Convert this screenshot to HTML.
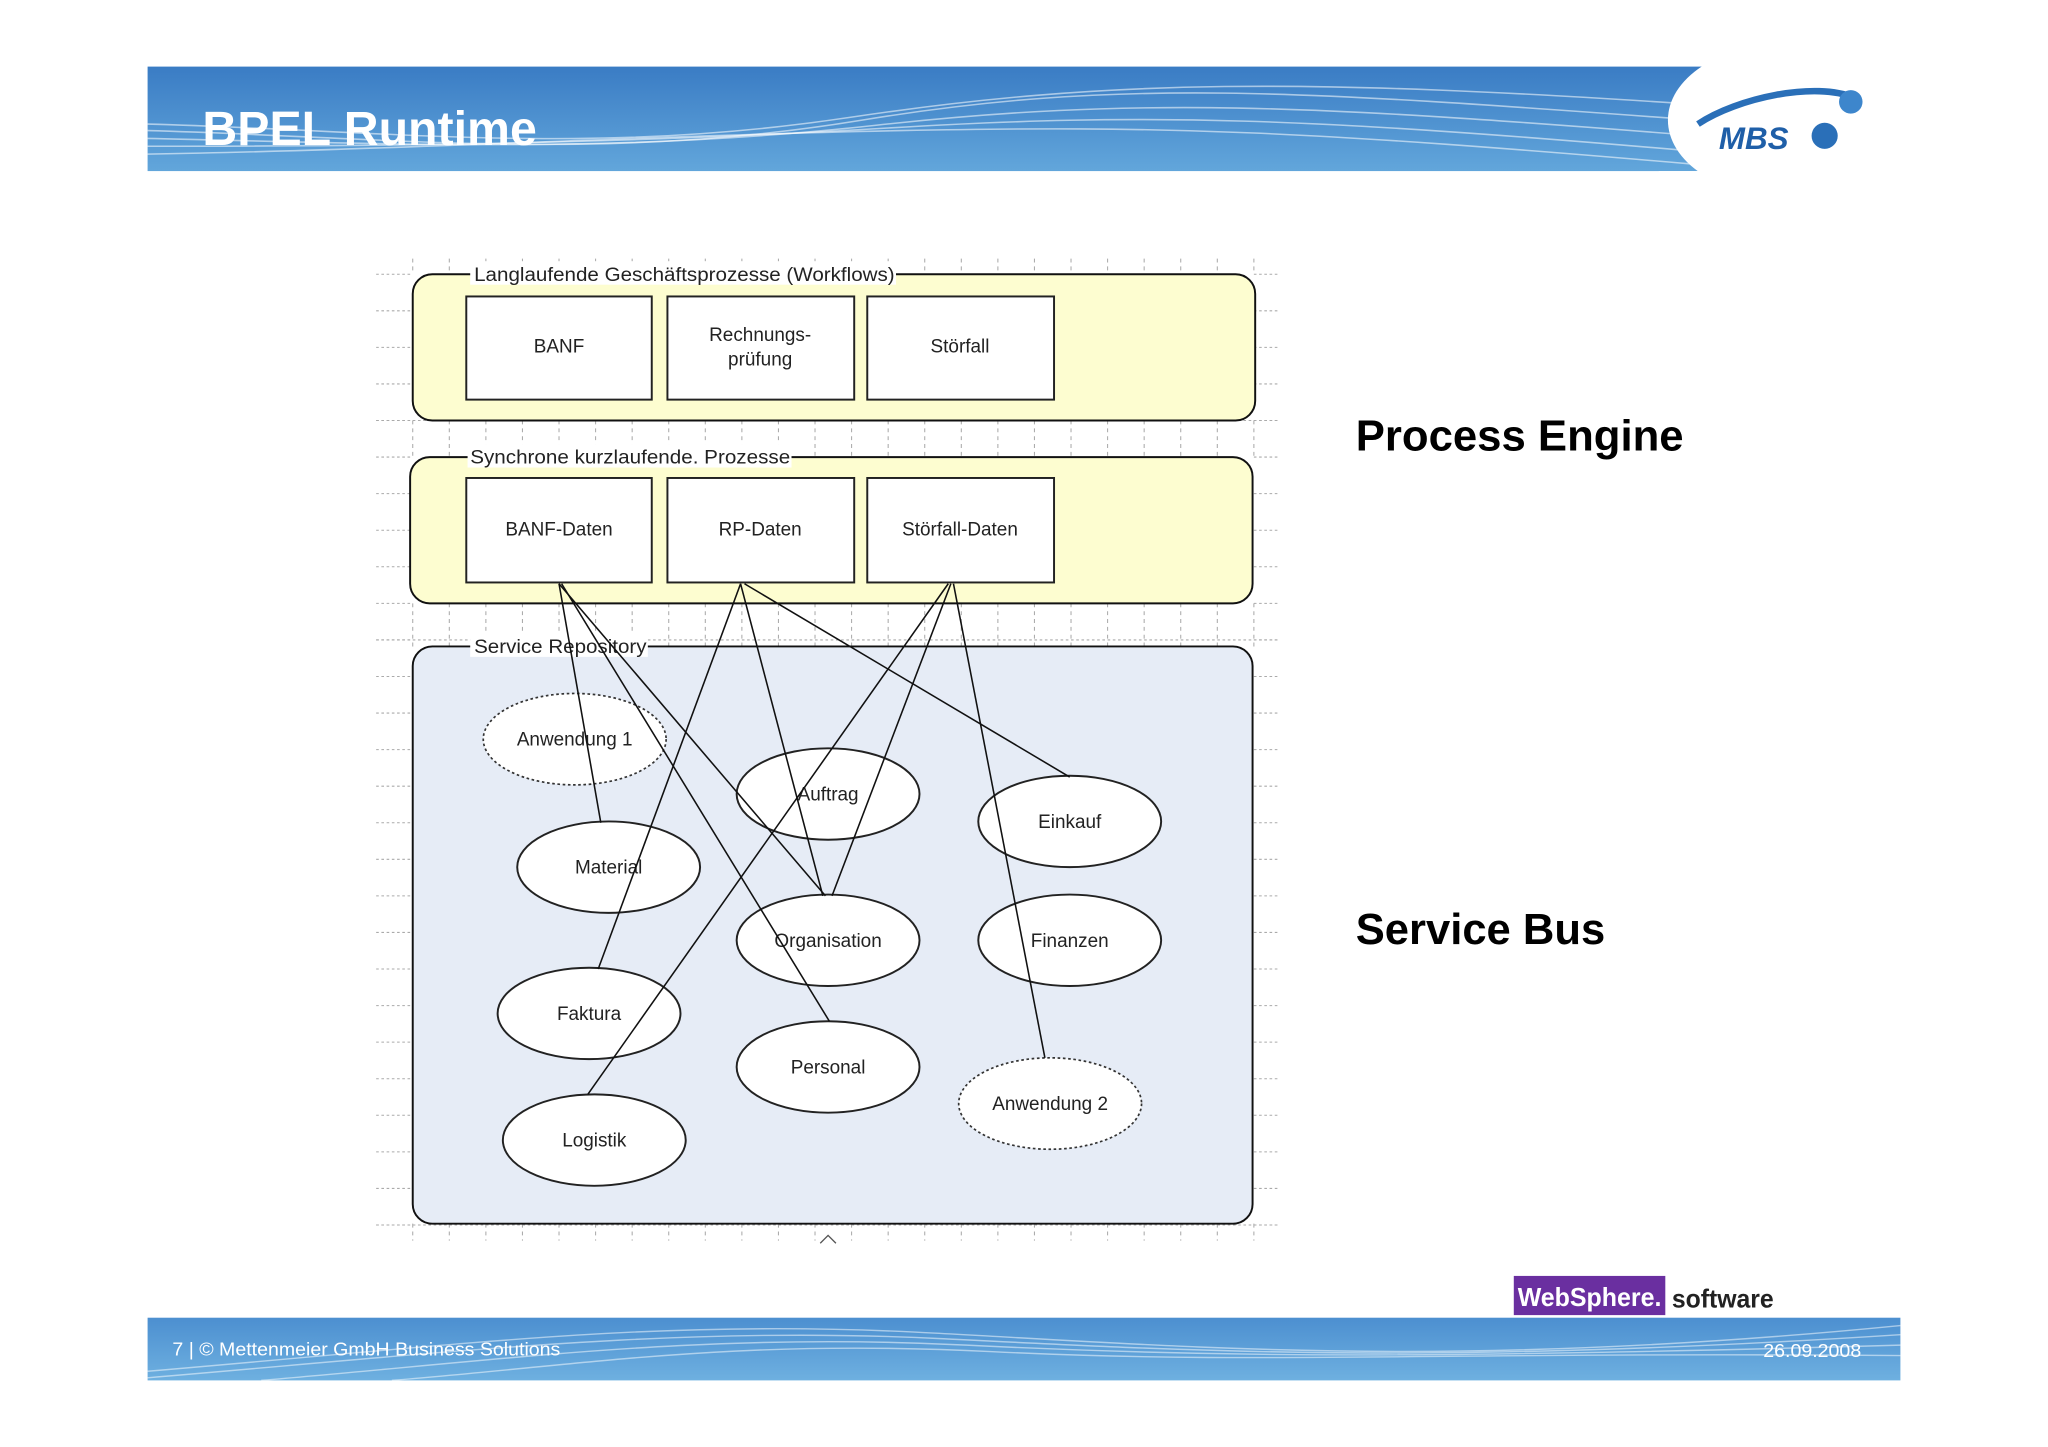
<!DOCTYPE html>
<html><head><meta charset="utf-8"><style>
html,body{margin:0;padding:0;background:#fff;}
svg{display:block;}
text{font-family:"Liberation Sans",Arial,sans-serif;}
</style></head><body>
<svg width="2048" height="1447" viewBox="0 0 1568 1108" preserveAspectRatio="none" xmlns="http://www.w3.org/2000/svg">
<defs>
<linearGradient id="hb" x1="0" y1="0" x2="0" y2="1">
<stop offset="0" stop-color="#3a7cc4"/><stop offset="1" stop-color="#62a6db"/></linearGradient>
<linearGradient id="fb" x1="0" y1="0" x2="0" y2="1">
<stop offset="0" stop-color="#4c8fd0"/><stop offset="1" stop-color="#6eb0e0"/></linearGradient>
</defs>
<rect width="1568" height="1108" fill="#fff"/>
<!-- header -->
<rect x="113" y="51" width="1260" height="80" fill="url(#hb)"/>
<g stroke="#ffffff" stroke-opacity="0.55" fill="none" stroke-width="1.2">
<path d="M113 95 C300 100 450 120 650 90 S1000 60 1300 80"/>
<path d="M113 100 C300 105 460 125 660 92 S1000 70 1300 92"/>
<path d="M113 106 C300 110 470 118 670 96 S1000 80 1300 104"/>
<path d="M113 112 C300 112 480 110 680 98 S1000 90 1300 116"/>
<path d="M113 118 C300 115 490 104 690 100 S1000 100 1300 126"/>
</g>
<ellipse cx="1365" cy="92" rx="88" ry="58" fill="#fff"/>
<rect x="1270" y="131" width="200" height="20" fill="#fff"/>
<path d="M1300 95 C1330 75 1390 62 1420 75" stroke="#2a6fb8" stroke-width="5" fill="none"/>
<circle cx="1417" cy="78" r="9" fill="#3d86cc"/>
<circle cx="1397" cy="104" r="10" fill="#2a6fb8"/>
<text x="1316" y="114" font-size="24" font-weight="bold" font-style="italic" fill="#1f5fa8">MBS</text>
<text x="155" y="111" font-size="37" font-weight="bold" fill="#fff" textLength="256" lengthAdjust="spacingAndGlyphs">BPEL Runtime</text>

<!-- grid -->
<g stroke="#aaa" stroke-width="0.8" stroke-dasharray="2,2">
<path d="M288 210H316M288 238H316M288 266H316M288 294H316M288 322H316M288 350H316M288 378H316M288 406H316M288 434H316M288 462H316M288 490H316M288 518H316M288 546H316M288 574H316M288 602H316M288 630H316M288 658H316M288 686H316M288 714H316M288 742H316M288 770H316M288 798H316M288 826H316M288 854H316M288 882H316M288 910H316M288 938H316"/>
<path d="M960 210H978M960 238H978M960 266H978M960 294H978M960 322H978M960 350H978M960 378H978M960 406H978M960 434H978M960 462H978M960 490H978M960 518H978M960 546H978M960 574H978M960 602H978M960 630H978M960 658H978M960 686H978M960 714H978M960 742H978M960 770H978M960 798H978M960 826H978M960 854H978M960 882H978M960 910H978M960 938H978"/>
<path d="M288 322H978M288 490H978M288 938H978"/>
</g>
<g stroke="#aaa" stroke-width="0.8" stroke-dasharray="3,3">
<path d="M316 198V210M344 198V210M372 198V210M400 198V210M428 198V210M456 198V210M484 198V210M512 198V210M540 198V210M568 198V210M596 198V210M624 198V210M652 198V210M680 198V210M708 198V210M736 198V210M764 198V210M792 198V210M820 198V210M848 198V210M876 198V210M904 198V210M932 198V210M960 198V210"/>
<path d="M316 322V350M344 322V350M372 322V350M400 322V350M428 322V350M456 322V350M484 322V350M512 322V350M540 322V350M568 322V350M596 322V350M624 322V350M652 322V350M680 322V350M708 322V350M736 322V350M764 322V350M792 322V350M820 322V350M848 322V350M876 322V350M904 322V350M932 322V350M960 322V350"/>
<path d="M316 462V495M344 462V495M372 462V495M400 462V495M428 462V495M456 462V495M484 462V495M512 462V495M540 462V495M568 462V495M596 462V495M624 462V495M652 462V495M680 462V495M708 462V495M736 462V495M764 462V495M792 462V495M820 462V495M848 462V495M876 462V495M904 462V495M932 462V495M960 462V495"/>
<path d="M316 937V950M344 937V950M372 937V950M400 937V950M428 937V950M456 937V950M484 937V950M512 937V950M540 937V950M568 937V950M596 937V950M624 937V950M652 937V950M680 937V950M708 937V950M736 937V950M764 937V950M792 937V950M820 937V950M848 937V950M876 937V950M904 937V950M932 937V950M960 937V950"/>
</g>

<!-- containers -->
<rect x="316" y="210" width="645" height="112" rx="15" fill="#fdfdd0" stroke="#111" stroke-width="1.5"/>
<rect x="314" y="350" width="645" height="112" rx="15" fill="#fdfdd0" stroke="#111" stroke-width="1.5"/>
<rect x="316" y="495" width="643" height="442" rx="15" fill="#e6ecf6" stroke="#111" stroke-width="1.5"/>
<rect x="360" y="200" width="326" height="18" fill="#fff"/>
<rect x="358" y="340" width="248" height="18" fill="#fff"/>
<rect x="360" y="485" width="136" height="18" fill="#fff"/>
<text x="363" y="215" font-size="14.5" fill="#222" textLength="322" lengthAdjust="spacingAndGlyphs">Langlaufende Geschäftsprozesse (Workflows)</text>
<text x="360" y="355" font-size="14.5" fill="#222" textLength="245" lengthAdjust="spacingAndGlyphs">Synchrone kurzlaufende. Prozesse</text>
<text x="363" y="500" font-size="14.5" fill="#222" textLength="132" lengthAdjust="spacingAndGlyphs">Service Repository</text>

<g fill="#fff" stroke="#222" stroke-width="1.5">
<rect x="357" y="227" width="142" height="79"/><rect x="511" y="227" width="143" height="79"/><rect x="664" y="227" width="143" height="79"/>
<rect x="357" y="366" width="142" height="80"/><rect x="511" y="366" width="143" height="80"/><rect x="664" y="366" width="143" height="80"/>
</g>
<g font-size="14.5" fill="#222" text-anchor="middle">
<text x="428" y="270">BANF</text><text x="582" y="261">Rechnungs-</text><text x="582" y="280">prüfung</text><text x="735" y="270">Störfall</text>
<text x="428" y="410">BANF-Daten</text><text x="582" y="410">RP-Daten</text><text x="735" y="410">Störfall-Daten</text>
</g>

<!-- ellipses -->
<g fill="#fff" stroke="#222" stroke-width="1.5">
<ellipse cx="634" cy="608" rx="70" ry="35"/><ellipse cx="819" cy="629" rx="70" ry="35"/>
<ellipse cx="466" cy="664" rx="70" ry="35"/><ellipse cx="634" cy="720" rx="70" ry="35"/>
<ellipse cx="819" cy="720" rx="70" ry="35"/><ellipse cx="451" cy="776" rx="70" ry="35"/>
<ellipse cx="634" cy="817" rx="70" ry="35"/><ellipse cx="455" cy="873" rx="70" ry="35"/>
</g>
<g fill="#fff" stroke="#333" stroke-width="1.3" stroke-dasharray="2,2">
<ellipse cx="440" cy="566" rx="70" ry="35"/><ellipse cx="804" cy="845" rx="70" ry="35"/>
</g>
<g font-size="14.5" fill="#222" text-anchor="middle">
<text x="440" y="571">Anwendung 1</text><text x="634" y="613">Auftrag</text><text x="819" y="634">Einkauf</text>
<text x="466" y="669">Material</text><text x="634" y="725">Organisation</text><text x="819" y="725">Finanzen</text>
<text x="451" y="781">Faktura</text><text x="634" y="822">Personal</text><text x="804" y="850">Anwendung 2</text><text x="455" y="878">Logistik</text>
</g>

<!-- connectors -->
<g stroke="#111" stroke-width="1.2" fill="none">
<path d="M428 447L460 630"/><path d="M428 447L632 686"/><path d="M430 447L635 782"/>
<path d="M567 447L458 742"/><path d="M567 447L630 686"/><path d="M570 447L819 595"/>
<path d="M728 447L637 686"/><path d="M726 447L450 838"/><path d="M730 447L800 810"/>
</g>
<path d="M628 952L634 946L640 952" stroke="#555" fill="none"/>

<text x="1038" y="345" font-size="33" font-weight="bold" fill="#000" textLength="251" lengthAdjust="spacingAndGlyphs">Process Engine</text>
<text x="1038" y="723" font-size="33" font-weight="bold" fill="#000" textLength="191" lengthAdjust="spacingAndGlyphs">Service Bus</text>

<!-- websphere -->
<rect x="1159" y="977" width="116" height="30" fill="#6a2fa0"/>
<text x="1217" y="1000" font-size="20" font-weight="bold" fill="#fff" text-anchor="middle" textLength="110" lengthAdjust="spacingAndGlyphs">WebSphere.</text>
<text x="1280" y="1001" font-size="20" font-weight="bold" fill="#222" textLength="78" lengthAdjust="spacingAndGlyphs">software</text>

<!-- footer -->
<rect x="113" y="1009" width="1342" height="48" fill="url(#fb)"/>
<g stroke="#fff" stroke-opacity="0.5" fill="none" stroke-width="1.1">
<path d="M113 1050 C350 1030 500 1010 700 1020 S1100 1050 1455 1015"/>
<path d="M113 1055 C350 1035 520 1015 720 1025 S1100 1045 1455 1022"/>
<path d="M200 1057 C400 1040 540 1020 740 1030 S1100 1040 1455 1030"/>
<path d="M300 1057 C450 1045 560 1025 760 1035 S1100 1035 1455 1038"/>
</g>
<text x="132" y="1038" font-size="14" fill="#fff" textLength="297" lengthAdjust="spacingAndGlyphs">7 | © Mettenmeier GmbH Business Solutions</text>
<text x="1350" y="1039" font-size="14" fill="#fff" textLength="75" lengthAdjust="spacingAndGlyphs">26.09.2008</text>
</svg>
</body></html>
